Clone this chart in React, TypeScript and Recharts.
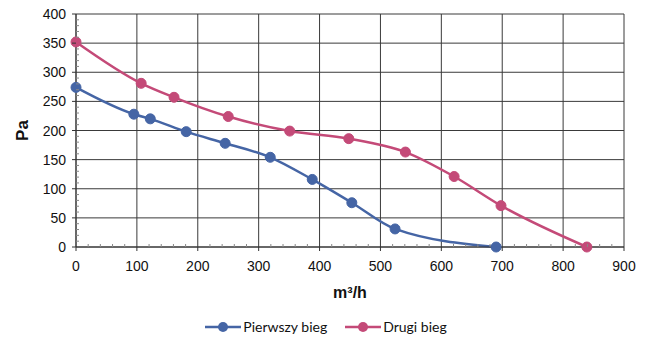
import {
  LineChart,
  Line,
  XAxis,
  YAxis,
  CartesianGrid,
  Legend,
} from "recharts";

// airflow [m3/h] vs pressure [Pa]
const pierwszyX = [0, 95, 122, 181, 245, 319, 388, 453, 524, 690];
const pierwszyY = [274, 228, 220, 198, 178, 154, 116, 76, 31, 0];

const drugiX = [0, 107, 161, 250, 351, 448, 541, 621, 698, 839];
const drugiY = [352, 281, 257, 224, 199, 186, 163, 121, 71, 0];

const xMajorTicks = [0, 100, 200, 300, 400, 500, 600, 700, 800, 900];
const yMajorTicks = [0, 50, 100, 150, 200, 250, 300, 350, 400];

const seriesNames = ["Pierwszy bieg", "Drugi bieg"];
const colors = ["#4565a5", "#c44a78"];

const pierwszyData = pierwszyX.map((x, i) => ({ x, y: pierwszyY[i] }));
const drugiData = drugiX.map((x, i) => ({ x, y: drugiY[i] }));

// minor ticks: x every 20, y every 10
const xTicks: number[] = [];
for (let v = 0; v <= 900; v += 20) xTicks.push(v);
const yTicks: number[] = [];
for (let v = 0; v <= 400; v += 10) yTicks.push(v);

const axisFont = "'Liberation Sans', Arial, sans-serif";

function XTick(props: any) {
  const { x, y, payload } = props;
  const v = payload.value;
  if (v % 100 === 0) {
    return (
      <g>
        <line x1={x} x2={x} y1={y} y2={y + 4} stroke="#333" />
        <text
          x={x}
          y={y + 24}
          textAnchor="middle"
          fontSize={14}
          fontFamily={axisFont}
          fill="#111"
        >
          {v}
        </text>
      </g>
    );
  }
  return <line x1={x} x2={x} y1={y - 3} y2={y} stroke="#888" />;
}

function YTick(props: any) {
  const { x, y, payload } = props;
  const v = payload.value;
  if (v % 50 === 0) {
    return (
      <g>
        <line x1={x - 4} x2={x} y1={y} y2={y} stroke="#333" />
        <text
          x={x - 10}
          y={y + 5}
          textAnchor="end"
          fontSize={14}
          fontFamily={axisFont}
          fill="#111"
        >
          {v}
        </text>
      </g>
    );
  }
  return <line x1={x} x2={x + 3} y1={y} y2={y} stroke="#888" />;
}

function LegendContent() {
  return (
    <div
      style={{
        display: "flex",
        justifyContent: "center",
        alignItems: "flex-end",
        height: 40,
        paddingLeft: 28,
        fontFamily: "Lato, sans-serif",
        fontSize: 14,
        color: "#111",
        boxSizing: "border-box",
        paddingBottom: 2,
      }}
    >
      {seriesNames.map((name, i) => (
        <div
          key={name}
          style={{ display: "flex", alignItems: "center", marginRight: i === 0 ? 18 : 0 }}
        >
          <svg width={36} height={12} style={{ marginRight: 2 }}>
            <line x1={0} x2={36} y1={6} y2={6} stroke={colors[i]} strokeWidth={2.5} />
            <circle cx={18} cy={6} r={5} fill={colors[i]} />
          </svg>
          <span>{name}</span>
        </div>
      ))}
    </div>
  );
}

export default function App() {
  return (
    <div style={{ position: "absolute", left: 0, top: 0, background: "#fff" }}>
      <LineChart
        width={647}
        height={352}
        margin={{ top: 14, right: 23, left: 0, bottom: 15 }}
      >
        <CartesianGrid
          stroke="#3a3a3a"
          strokeWidth={1}
          verticalValues={xMajorTicks}
          horizontalValues={yMajorTicks}
        />
        <XAxis
          type="number"
          dataKey="x"
          domain={[0, 900]}
          ticks={xTicks}
          interval={0}
          height={50}
          tickSize={0}
          tickMargin={0}
          tickLine={false}
          tick={<XTick />}
          axisLine={{ stroke: "#333" }}
          allowDuplicatedCategory={false}
          label={{
            value: "m³/h",
            position: "center",
            dy: 20,
            fontSize: 16,
            fontWeight: "bold",
            fontFamily: axisFont,
            fill: "#111",
          }}
        />
        <YAxis
          type="number"
          dataKey="y"
          domain={[0, 400]}
          ticks={yTicks}
          interval={0}
          width={76}
          tickSize={0}
          tickMargin={0}
          tickLine={false}
          tick={<YTick />}
          axisLine={{ stroke: "#333" }}
          label={{
            value: "Pa",
            angle: -90,
            position: "center",
            dx: -16,
            fontSize: 17,
            fontWeight: "bold",
            fontFamily: axisFont,
            fill: "#111",
          }}
        />
        <Legend verticalAlign="bottom" height={40} content={<LegendContent />} />
        <Line
          data={pierwszyData}
          dataKey="y"
          name={seriesNames[0]}
          type="monotone"
          stroke={colors[0]}
          strokeWidth={2.5}
          dot={{ r: 5, fill: colors[0], stroke: colors[0], strokeWidth: 1 }}
          isAnimationActive={false}
        />
        <Line
          data={drugiData}
          dataKey="y"
          name={seriesNames[1]}
          type="monotone"
          stroke={colors[1]}
          strokeWidth={2.5}
          dot={{ r: 5, fill: colors[1], stroke: colors[1], strokeWidth: 1 }}
          isAnimationActive={false}
        />
      </LineChart>
    </div>
  );
}
